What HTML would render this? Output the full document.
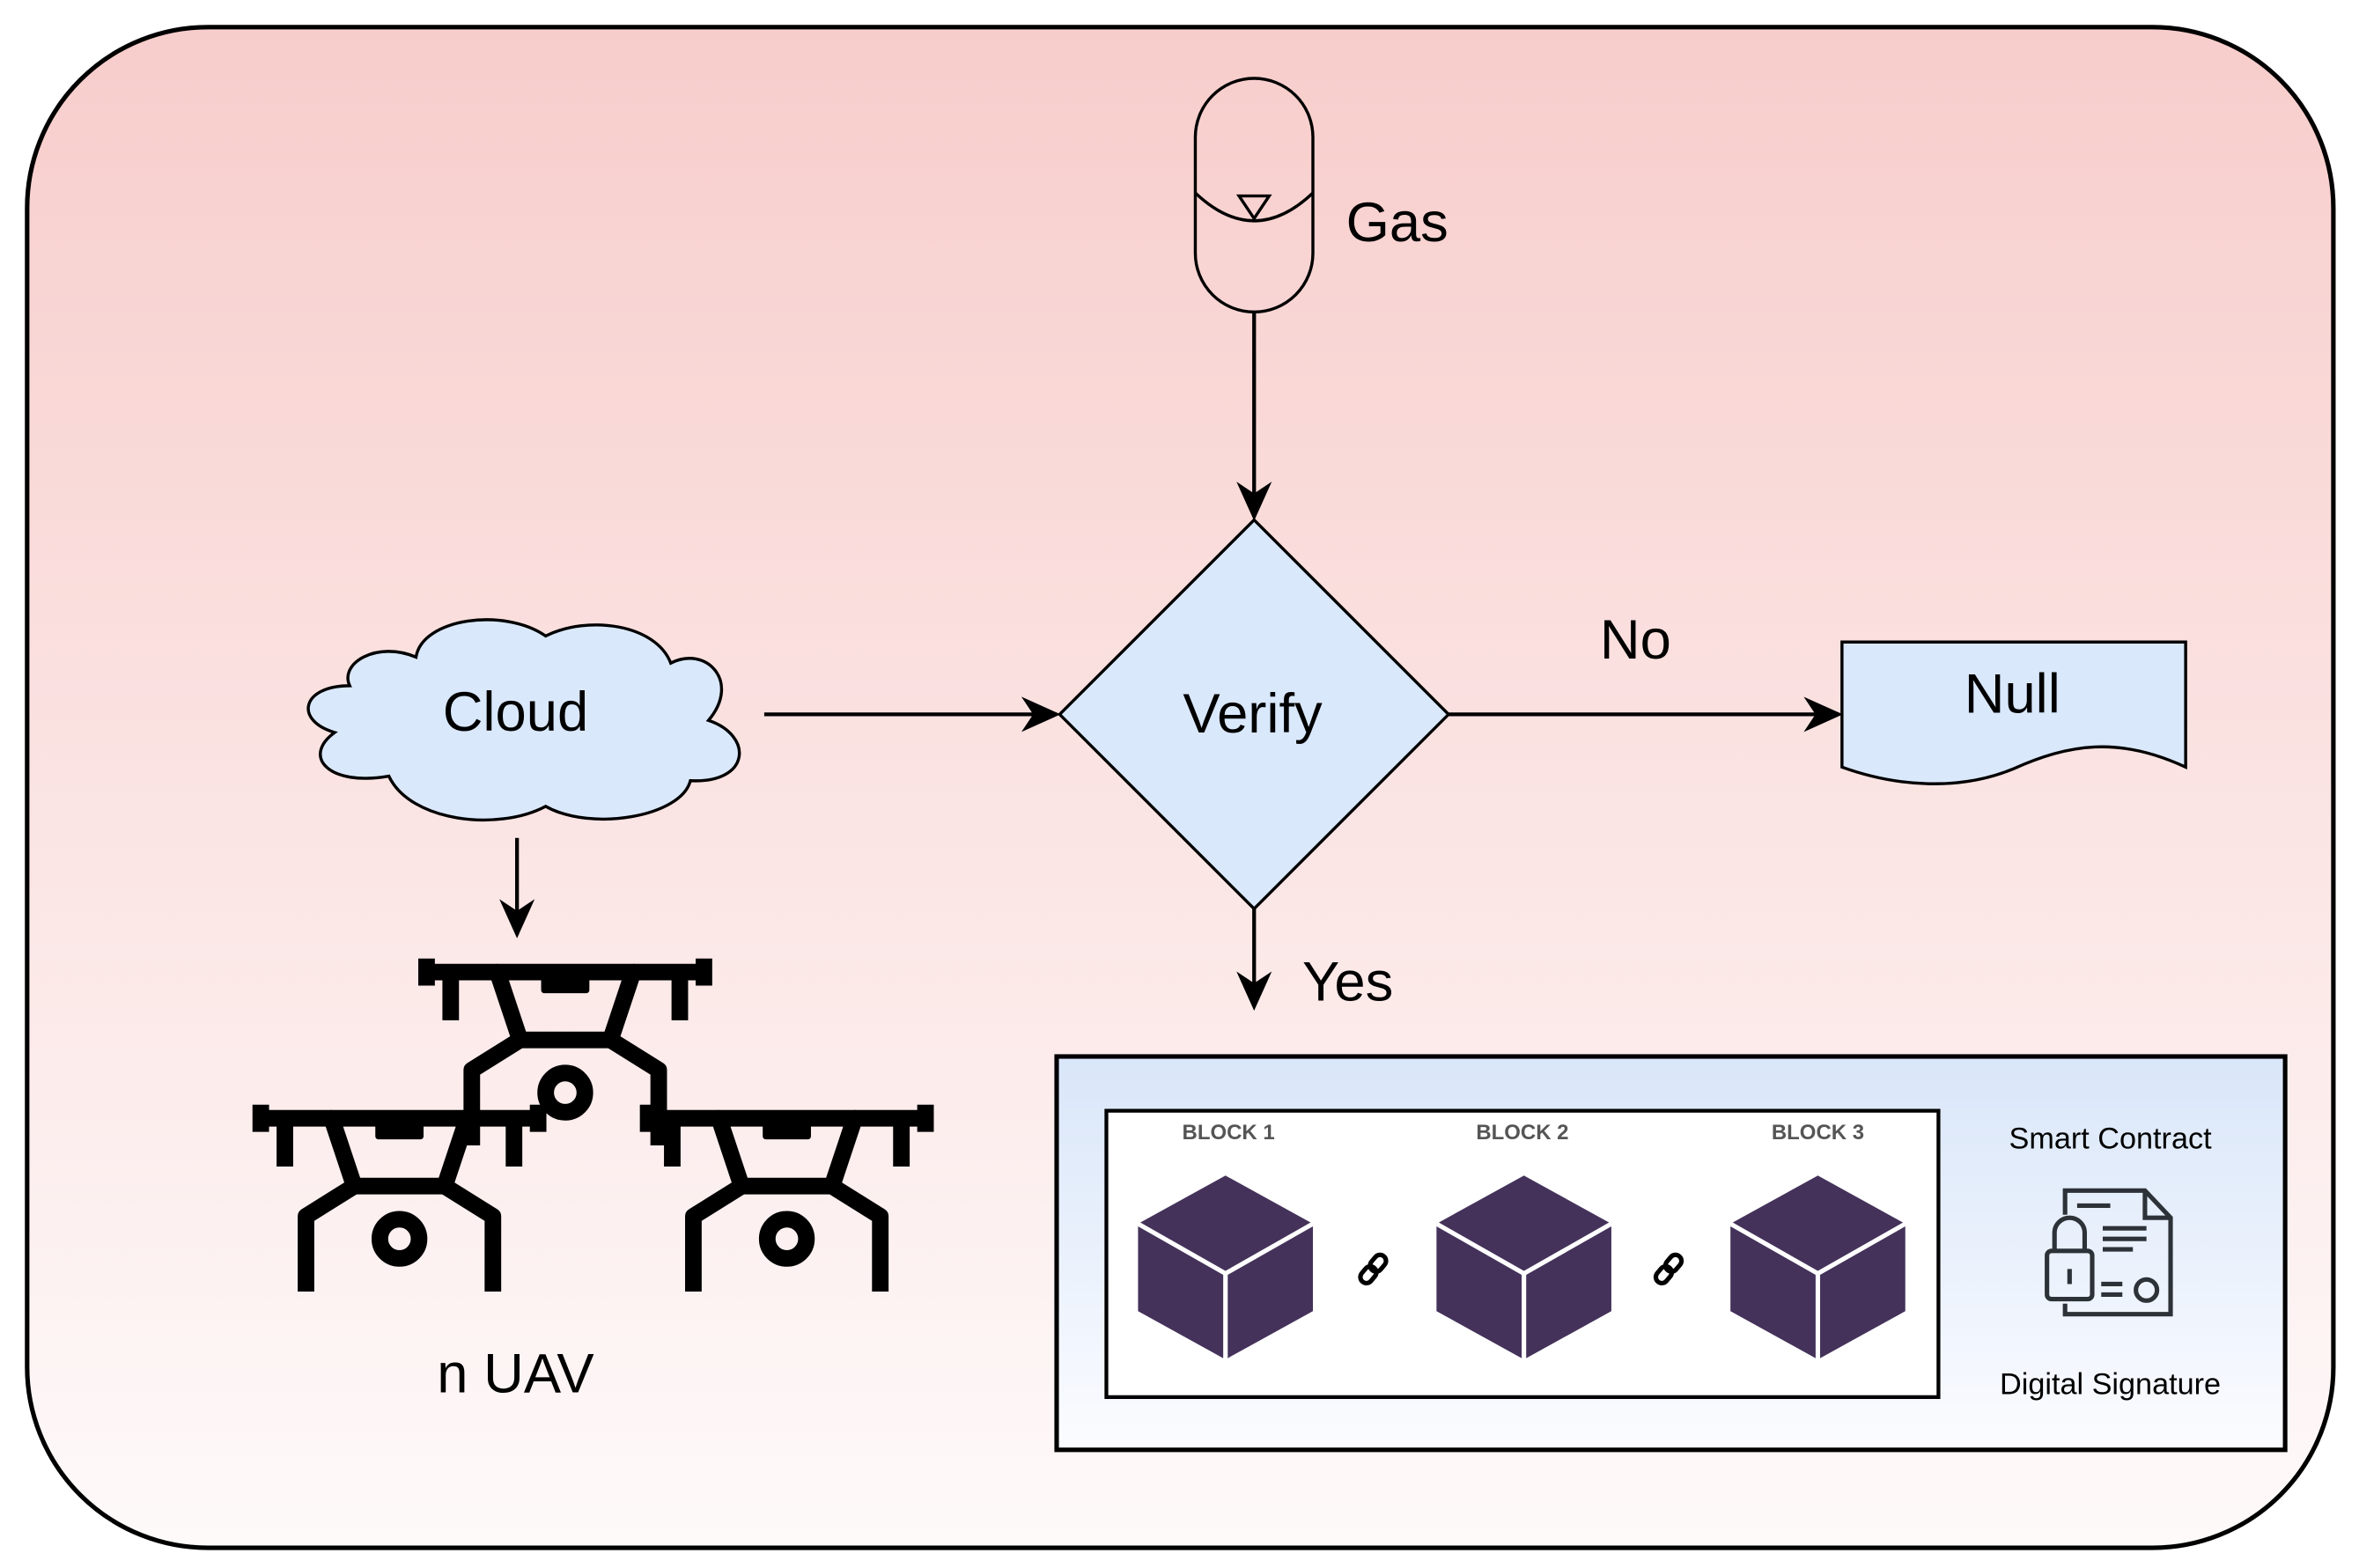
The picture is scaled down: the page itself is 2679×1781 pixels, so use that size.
<!DOCTYPE html>
<html><head><meta charset="utf-8"><style>
html,body{margin:0;padding:0;background:#fff;}
svg{display:block;}
text{font-family:"Liberation Sans",sans-serif;}
</style></head><body>
<svg width="2679" height="1781" viewBox="0 0 1565 1040.4" preserveAspectRatio="none" xmlns="http://www.w3.org/2000/svg">
<defs>
<linearGradient id="bg" x1="0" y1="0" x2="0" y2="1">
<stop offset="0" stop-color="#f7cdcb"/><stop offset="1" stop-color="#fefafa"/></linearGradient>
<linearGradient id="bb" x1="0" y1="0" x2="0" y2="1">
<stop offset="0" stop-color="#d9e6f9"/><stop offset="1" stop-color="#fbfcff"/></linearGradient>
<marker id="ar" viewBox="0 0 20 20" refX="18" refY="10" markerWidth="26" markerHeight="26" markerUnits="userSpaceOnUse" orient="auto">
<path d="M0,1 L20,10 L0,19 L6,10 Z" fill="#000"/></marker>
<g id="drone" fill="none" stroke="#000" stroke-width="11" stroke-linejoin="round">
<line x1="-92" y1="-9" x2="-92" y2="9"/><line x1="-92" y1="0" x2="-45" y2="0"/>
<line x1="92" y1="-9" x2="92" y2="9"/><line x1="92" y1="0" x2="45" y2="0"/>
<line x1="-76" y1="0" x2="-76" y2="32"/><line x1="76" y1="0" x2="76" y2="32"/>
<polygon points="-45,0 45,0 30,45 -30,45"/>
<rect x="-14" y="0" width="28" height="12" fill="#000" stroke-width="4"/>
<polyline points="-30,45 -62,65 -62,115"/>
<polyline points="30,45 62,65 62,115"/>
<circle cx="0" cy="80" r="13"/>
</g>
<g id="cube">
<polygon points="0,0 58,32 58,90 0,122 -58,90 -58,32" fill="#44325a"/>
<polyline points="-58,32 0,65 58,32" fill="none" stroke="#fff" stroke-width="3"/>
<line x1="0" y1="65" x2="0" y2="122" stroke="#fff" stroke-width="3"/>
</g>
</defs>
<rect x="18" y="18" width="1530" height="1009" rx="120" fill="url(#bg)" stroke="#000" stroke-width="3"/>

<rect x="793" y="52" width="78" height="155" rx="39" fill="none" stroke="#000" stroke-width="2"/>
<path d="M793,128 Q832,165 871,128" fill="none" stroke="#000" stroke-width="2"/>
<polygon points="822,130 842,130 832,145" fill="none" stroke="#000" stroke-width="2"/>
<text x="893" y="160" font-size="37">Gas</text>
<line x1="832" y1="207" x2="832" y2="343" stroke="#000" stroke-width="2.5" marker-end="url(#ar)"/>

<polygon points="832,345 961,474 832,603 703,474" fill="#dae8fc" stroke="#000" stroke-width="2"/>
<text x="831" y="486" font-size="37" text-anchor="middle">Verify</text>

<path d="M232,455 C200,455 195,478 222,486 C200,502 218,522 258,515 C272,545 330,552 362,535 C392,552 452,542 458,518 C498,520 500,488 470,478 C492,452 468,428 445,440 C435,414 390,408 362,422 C335,403 280,410 276,436 C250,425 225,440 232,455 Z" fill="#dae8fc" stroke="#000" stroke-width="2"/>
<text x="342" y="485" font-size="37" text-anchor="middle">Cloud</text>
<line x1="507" y1="474" x2="701" y2="474" stroke="#000" stroke-width="2.5" marker-end="url(#ar)"/>

<line x1="961" y1="474" x2="1220" y2="474" stroke="#000" stroke-width="2.5" marker-end="url(#ar)"/>
<text x="1085" y="437" font-size="37" text-anchor="middle">No</text>
<path d="M1222,426 L1450,426 L1450,509 C1405,488 1372,494 1336,510 C1300,525 1258,522 1222,509 Z" fill="#dae8fc" stroke="#000" stroke-width="2"/>
<text x="1335" y="473" font-size="37" text-anchor="middle">Null</text>

<line x1="832" y1="603" x2="832" y2="668" stroke="#000" stroke-width="2.5" marker-end="url(#ar)"/>
<text x="864" y="664" font-size="37">Yes</text>

<line x1="343" y1="556" x2="343" y2="620" stroke="#000" stroke-width="2.5" marker-end="url(#ar)"/>
<use href="#drone" x="375" y="645"/>
<use href="#drone" x="265" y="742"/>
<use href="#drone" x="522" y="742"/>
<text x="342" y="924" font-size="37" text-anchor="middle">n UAV</text>

<rect x="701" y="701" width="815" height="261" fill="url(#bb)" stroke="#000" stroke-width="3"/>
<rect x="734" y="737" width="552" height="190" fill="#fff" stroke="#000" stroke-width="2.5"/>
<g font-size="14" font-weight="bold" fill="#555" text-anchor="middle">
<text x="815" y="756">BLOCK 1</text><text x="1010" y="756">BLOCK 2</text><text x="1206" y="756">BLOCK 3</text></g>
<use href="#cube" x="813" y="780"/>
<use href="#cube" x="1011" y="780"/>
<use href="#cube" x="1206" y="780"/>
<g fill="none" stroke="#000" stroke-width="3">
<g transform="translate(911,842) rotate(-50)"><rect x="-11" y="-4" width="12" height="8" rx="4"/><rect x="-1" y="-4" width="12" height="8" rx="4"/></g>
<g transform="translate(1107,842) rotate(-50)"><rect x="-11" y="-4" width="12" height="8" rx="4"/><rect x="-1" y="-4" width="12" height="8" rx="4"/></g>
</g>
<text x="1400" y="762" font-size="20" text-anchor="middle">Smart Contract</text>
<text x="1400" y="925" font-size="20" text-anchor="middle">Digital Signature</text>
<g fill="none" stroke="#2d3238" stroke-width="3">
<path d="M1370,806 L1370,790 L1423,790 L1440,808 L1440,872 L1370,872 L1370,865"/>
<path d="M1423,790 L1423,808 L1440,808"/>
<line x1="1378" y1="800" x2="1400" y2="800"/>
<line x1="1395" y1="815" x2="1424" y2="815"/><line x1="1395" y1="822" x2="1424" y2="822"/><line x1="1395" y1="829" x2="1415" y2="829"/>
<path d="M1363,830 L1363,818 A10,10 0 0 1 1383,818 L1383,830"/>
<rect x="1358" y="830" width="30" height="32" rx="3"/>
<line x1="1373" y1="842" x2="1373" y2="852"/>
<line x1="1394" y1="852" x2="1408" y2="852"/><line x1="1394" y1="859" x2="1408" y2="859"/>
<circle cx="1424" cy="856" r="7"/>
</g>
</svg>
</body></html>
